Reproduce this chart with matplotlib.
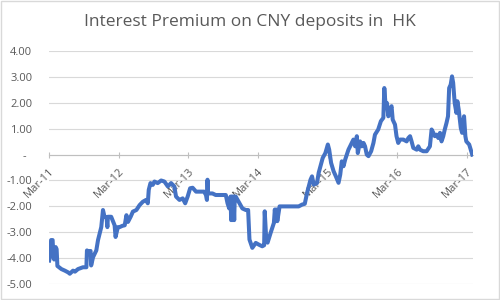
import matplotlib
matplotlib.use("Agg")
import matplotlib.pyplot as plt
import matplotlib.dates as mdates
from matplotlib.patches import Rectangle
import pandas as pd

# values
dates = [
    "2011-03-02", "2011-03-08", "2011-03-12", "2011-03-20", "2011-03-24", "2011-03-28",
    "2011-04-05", "2011-04-10", "2011-04-14", "2011-05-05", "2011-05-23", "2011-06-10",
    "2011-06-18", "2011-07-05", "2011-07-15", "2011-07-31", "2011-08-15", "2011-08-26",
    "2011-09-13", "2011-09-16", "2011-09-25", "2011-10-05", "2011-10-08", "2011-10-18",
    "2011-11-04", "2011-11-13", "2011-11-30", "2011-12-09", "2011-12-17", "2011-12-28",
    "2012-01-01", "2012-01-04", "2012-01-21", "2012-02-08", "2012-02-13", "2012-02-25",
    "2012-03-05", "2012-03-20", "2012-04-01", "2012-04-10", "2012-04-18", "2012-05-02",
    "2012-05-14", "2012-06-01", "2012-06-18", "2012-07-05", "2012-07-22", "2012-07-31",
    "2012-08-05", "2012-08-14", "2012-08-26", "2012-09-04", "2012-09-21", "2012-10-09",
    "2012-10-26", "2012-11-13", "2012-11-30", "2012-12-17", "2012-12-26", "2013-01-13",
    "2013-01-30", "2013-02-12", "2013-02-25", "2013-03-10", "2013-03-23", "2013-04-10",
    "2013-05-22", "2013-06-01", "2013-06-06", "2013-06-09", "2013-06-12", "2013-07-05",
    "2013-07-22", "2013-09-13", "2013-09-22", "2013-10-01", "2013-10-08", "2013-10-11",
    "2013-10-15", "2013-10-19", "2013-10-23", "2013-10-27", "2013-10-30", "2013-11-04",
    "2013-12-09", "2013-12-27", "2014-01-08", "2014-01-15", "2014-01-30", "2014-02-17",
    "2014-03-06", "2014-03-23", "2014-04-02", "2014-04-05", "2014-04-13", "2014-04-20",
    "2014-05-06", "2014-05-23", "2014-05-28", "2014-06-02", "2014-06-06", "2014-06-10",
    "2014-06-22", "2014-09-30", "2014-10-18", "2014-11-01", "2014-11-13", "2014-12-01",
    "2014-12-09", "2014-12-18", "2015-01-04", "2015-01-13", "2015-01-22", "2015-02-03",
    "2015-02-17", "2015-03-02", "2015-03-09", "2015-03-19", "2015-04-01", "2015-04-13",
    "2015-04-27", "2015-05-06", "2015-05-14", "2015-05-23", "2015-06-01", "2015-06-18",
    "2015-07-05", "2015-07-14", "2015-07-23", "2015-08-01", "2015-08-06", "2015-08-18",
    "2015-08-27", "2015-09-05", "2015-09-13", "2015-09-22", "2015-10-01", "2015-10-15",
    "2015-10-27", "2015-11-04", "2015-11-21", "2015-12-05", "2015-12-18", "2015-12-23",
    "2015-12-30", "2016-01-06", "2016-01-13", "2016-01-22", "2016-01-30", "2016-02-05",
    "2016-02-17", "2016-02-25", "2016-03-05", "2016-03-14", "2016-04-01", "2016-04-18",
    "2016-04-27", "2016-05-06", "2016-05-14", "2016-05-23", "2016-06-10", "2016-06-18",
    "2016-06-27", "2016-07-14", "2016-08-01", "2016-08-18", "2016-08-27", "2016-09-05",
    "2016-09-13", "2016-09-22", "2016-10-01", "2016-10-10", "2016-10-18", "2016-10-27",
    "2016-11-04", "2016-11-13", "2016-11-21", "2016-11-27", "2016-12-05", "2016-12-12",
    "2016-12-18", "2016-12-26", "2017-01-04", "2017-01-09", "2017-01-16", "2017-01-27",
    "2017-02-03", "2017-02-13", "2017-02-20", "2017-02-25", "2017-03-12", "2017-03-28",
]
premium = [
    -4.09, -3.90, -3.30, -3.30, -3.90, -4.05,
    -3.57, -3.65, -4.30, -4.42, -4.48, -4.55,
    -4.60, -4.48, -4.52, -4.42, -4.38, -4.35,
    -4.35, -3.70, -3.75, -3.72, -4.28, -3.96,
    -3.70, -3.30, -2.80, -2.14, -2.40, -2.45,
    -2.80, -2.40, -2.40, -2.73, -3.18, -2.80,
    -2.80, -2.75, -2.73, -2.34, -2.60, -2.40,
    -2.20, -2.14, -1.95, -1.82, -1.75, -1.88,
    -1.36, -1.10, -1.17, -1.04, -1.10, -1.00,
    -1.04, -1.23, -1.10, -1.23, -1.62, -1.75,
    -1.69, -1.88, -1.62, -1.30, -1.28, -1.43,
    -1.43, -1.56, -1.75, -0.97, -1.50, -1.50,
    -1.56, -1.56, -1.88, -2.08, -1.62, -2.53,
    -1.62, -2.53, -1.62, -2.53, -1.62, -1.62,
    -2.08, -2.14, -2.14, -3.28, -3.60, -3.41,
    -3.48, -3.54, -3.50, -2.19, -3.28, -3.40,
    -3.02, -2.64, -2.12, -2.57, -2.12, -2.57,
    -2.00, -2.00, -1.93, -1.90, -1.48, -0.97,
    -0.84, -1.16, -1.10, -0.70, -0.45, -0.13,
    0.06, 0.39, 0.19, -0.32, -0.64, -0.84,
    -1.09, -0.77, -0.26, -0.45, -0.19, 0.19,
    0.45, 0.58, 0.32, 0.71, 0.06, 0.51,
    0.32, 0.45, 0.32, 0.00, -0.06, 0.13,
    0.45, 0.77, 0.97, 1.29, 1.42, 2.57,
    1.87, 1.99, 1.48, 1.74, 1.87, 1.35,
    1.16, 0.71, 0.45, 0.58, 0.58, 0.51,
    0.64, 0.71, 0.51, 0.26, 0.19, 0.32,
    0.19, 0.13, 0.13, 0.32, 0.97, 0.84,
    0.71, 0.77, 0.64, 0.84, 0.51, 0.71,
    0.97, 1.22, 1.48, 2.57, 2.70, 3.02,
    2.77, 1.99, 1.61, 2.06, 1.74, 1.03,
    0.84, 1.48, 0.71, 0.51, 0.39, 0.00,
]
tick_dates = ["2011-03-01", "2012-03-01", "2013-03-01", "2014-03-01",
              "2015-03-01", "2016-03-01", "2017-03-01"]
y_ticks = [4, 3, 2, 1, 0, -1, -2, -3, -4, -5]
y_labels = ["4.00", "3.00", "2.00", "1.00", "-  ", "-1.00", "-2.00", "-3.00", "-4.00", "-5.00"]
title = "Interest Premium on CNY deposits in  HK"

x = pd.to_datetime(dates)
text_col = "#595959"
grid_col = "#d9d9d9"
plt.rcParams["font.family"] = ["Open Sans", "DejaVu Sans"]

fig = plt.figure(figsize=(5, 3), dpi=100)
ax = fig.add_axes([0.098, 0.053, 0.848, 0.777])

ax.plot(x, premium, color="#4472c4", lw=2.9, solid_joinstyle="round", zorder=3)

ax.set_ylim(-5, 4)
ax.set_xlim(pd.Timestamp("2011-03-01"), pd.Timestamp("2017-04-01"))
ax.set_yticks(y_ticks)
ax.set_yticklabels(y_labels)
ax.grid(axis="y", color=grid_col, lw=0.8)
ax.set_axisbelow(True)

for s in ["top", "right", "left"]:
    ax.spines[s].set_visible(False)
ax.spines["bottom"].set_position(("data", 0))
ax.spines["bottom"].set_color("#bfbfbf")
ax.spines["bottom"].set_linewidth(0.8)

ax.set_xticks(pd.to_datetime(tick_dates))
ax.xaxis.set_major_formatter(mdates.DateFormatter("%b-%y"))
ax.tick_params(axis="x", direction="inout", length=4, color="#bfbfbf",
               labelsize=8, labelcolor=text_col, pad=6)
ax.tick_params(axis="y", length=0, labelsize=8, labelcolor=text_col, pad=12)
for lab in ax.get_xticklabels():
    lab.set_rotation(45)
    lab.set_ha("right")
    lab.set_rotation_mode("anchor")

fig.text(0.5, 0.925, title, ha="center", va="center", fontsize=12.5,
         color=text_col)

fig.patches.append(Rectangle((0.002, 0.003), 0.996, 0.994, transform=fig.transFigure,
                             fill=False, ec=grid_col, lw=1))

fig.savefig("out.png", dpi=100, facecolor="white")
